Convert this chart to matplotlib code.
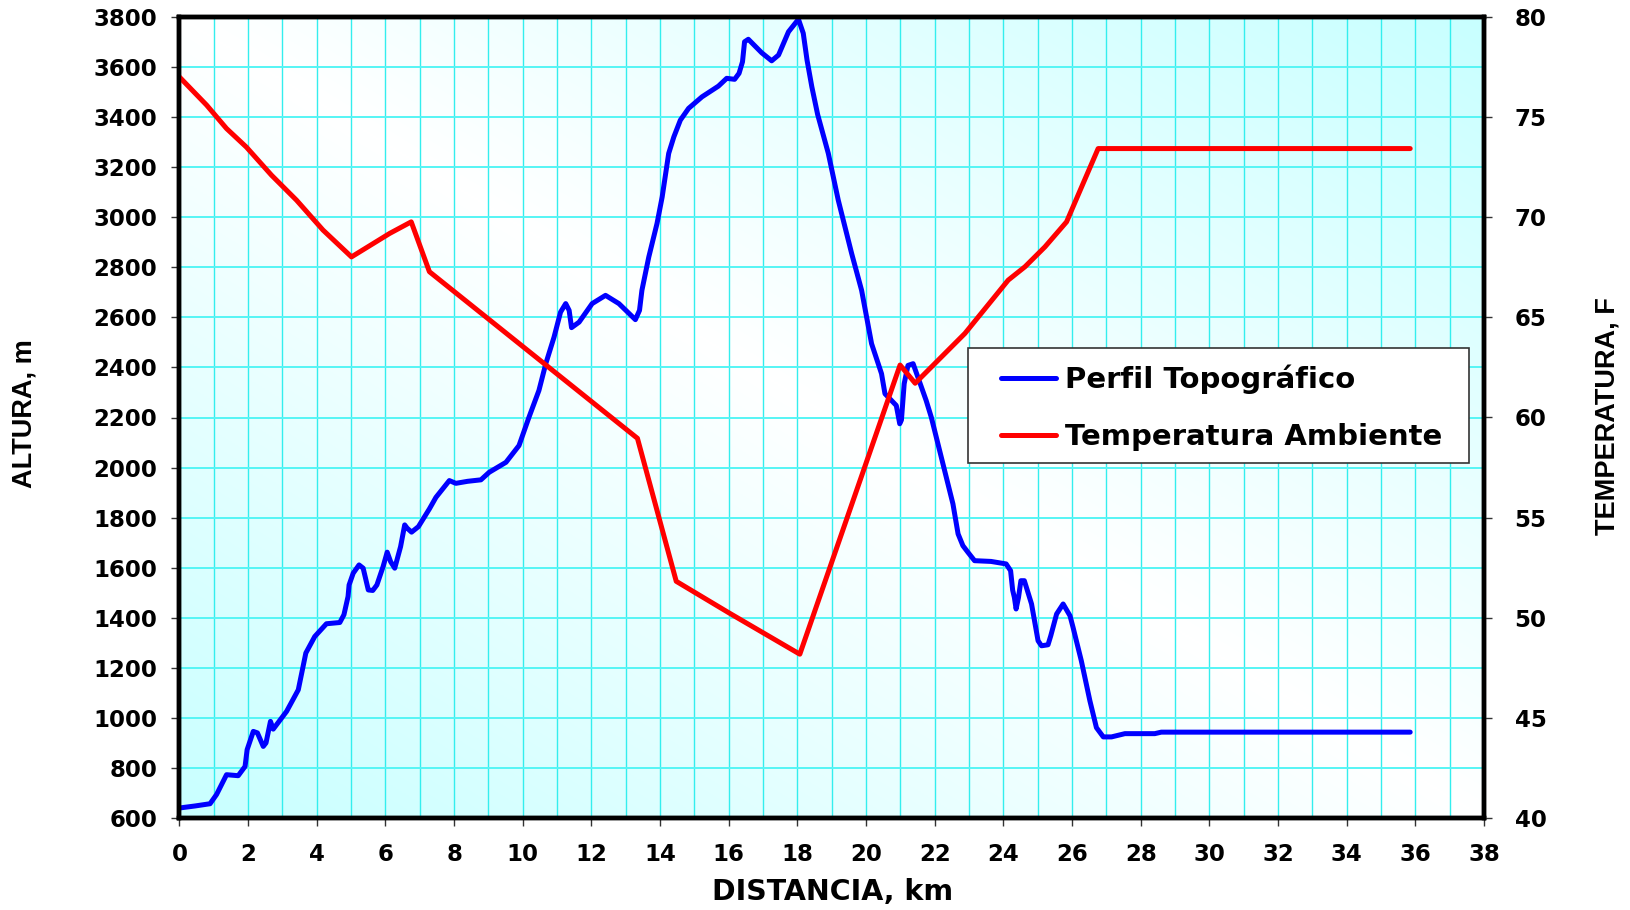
import numpy as np
import matplotlib
matplotlib.use("Agg")
import matplotlib.pyplot as plt
from matplotlib.ticker import MultipleLocator
from matplotlib.colors import LinearSegmentedColormap
from matplotlib.patches import Rectangle

# Topographic profile: distance (km) vs altitude (m)
dist_km = [0.00, 0.45, 0.89, 1.08, 1.37, 1.71, 1.91, 1.97, 2.15, 2.27, 2.44, 2.52,
           2.65, 2.73, 3.12, 3.46, 3.68, 3.94, 4.28, 4.67, 4.79, 4.91, 4.94, 5.06,
           5.23, 5.35, 5.50, 5.63, 5.75, 5.93, 6.05, 6.15, 6.27, 6.44, 6.56, 6.63,
           6.76, 6.96, 7.28, 7.47, 7.86, 8.05, 8.39, 8.78, 9.02, 9.51, 9.89, 10.18,
           10.47, 10.67, 10.91, 11.10, 11.25, 11.35, 11.42, 11.64, 12.02, 12.41,
           12.80, 13.28, 13.40, 13.47, 13.67, 13.91, 14.06, 14.25, 14.40, 14.59,
           14.83, 15.22, 15.70, 15.94, 16.17, 16.30, 16.40, 16.46, 16.57, 16.96,
           17.25, 17.45, 17.74, 18.03, 18.17, 18.28, 18.42, 18.59, 18.90, 19.19,
           19.58, 19.87, 20.16, 20.45, 20.55, 20.88, 20.98, 21.03, 21.11, 21.22,
           21.37, 21.51, 21.75, 21.90, 22.19, 22.53, 22.68, 22.82, 22.97, 23.16,
           23.64, 24.08, 24.21, 24.27, 24.32, 24.37, 24.44, 24.51, 24.61, 24.82,
           25.01, 25.11, 25.30, 25.38, 25.55, 25.74, 25.94, 26.03, 26.27, 26.52,
           26.71, 26.91, 27.15, 27.54, 28.41, 28.60, 35.85]
altura_m = [640, 648, 657, 694, 773, 769, 806, 873, 946, 940, 886, 900,
            986, 955, 1026, 1112, 1259, 1325, 1376, 1381, 1412, 1485, 1531, 1578,
            1611, 1598, 1511, 1509, 1531, 1604, 1662, 1624, 1598, 1684, 1771, 1758,
            1742, 1764, 1835, 1881, 1948, 1937, 1945, 1951, 1981, 2021, 2088, 2201,
            2308, 2415, 2521, 2621, 2655, 2628, 2559, 2581, 2655, 2688,
            2655, 2591, 2628, 2708, 2841, 2975, 3081, 3255, 3321, 3388,
            3435, 3481, 3524, 3555, 3551, 3575, 3621, 3701, 3711, 3657,
            3625, 3648, 3741, 3791, 3735, 3628, 3521, 3410, 3255, 3068,
            2855, 2708, 2495, 2375, 2295, 2248, 2175, 2190, 2335, 2408,
            2415, 2361, 2268, 2201, 2041, 1855, 1735, 1688, 1661, 1628,
            1625, 1615, 1588, 1510, 1481, 1435, 1481, 1548, 1548, 1455,
            1308, 1288, 1292, 1328, 1415, 1455, 1408, 1361, 1228, 1068,
            961, 924, 924, 937, 937, 943, 943]

# Ambient temperature: distance (km) vs temperature (F)
temp_km = [0.00, 0.79, 1.37, 1.95, 2.68, 3.41, 4.18, 5.01, 6.12, 6.75, 7.28,
           13.34, 14.47, 16.00, 18.07, 20.99, 21.43, 22.88, 24.14, 24.63, 25.21,
           25.84, 26.76, 35.85]
temp_f = [77.0, 75.6, 74.43, 73.5, 72.1, 70.85, 69.36, 68.02, 69.19, 69.77, 67.28,
          58.96, 51.82, 50.25, 48.18, 62.62, 61.71, 64.2, 66.86, 67.53, 68.52,
          69.77, 73.43, 73.43]

x_ticks = list(range(0, 39, 2))
alt_ticks = list(range(600, 3801, 200))
temp_ticks = list(range(40, 81, 5))

series_labels = ["Perfil Topográfico", "Temperatura Ambiente"]

W, H, DPI = 1631, 910, 100
fig = plt.figure(figsize=(W / DPI, H / DPI), dpi=DPI)
left, right, top, bottom = 179.5, 1484.0, 17.0, 818.0
ax = fig.add_axes([left / W, 1 - bottom / H, (right - left) / W, (bottom - top) / H])

# diagonal light-cyan / white / light-cyan background
n = 400
u = np.linspace(0, 1, n)
U, V = np.meshgrid(u, u)
grad = np.abs(U + V - 1.0)
cmap = LinearSegmentedColormap.from_list("bg", ["#FFFFFF", "#C8FFFF"])
ax.imshow(grad, extent=[0, 1, 0, 1], transform=ax.transAxes, origin="lower",
          cmap=cmap, aspect="auto", zorder=0, interpolation="bilinear")

tick_font = dict(family="DejaVu Sans", weight="bold", size=16.5)

ax.set_xlim(0, 38)
ax.set_ylim(600, 3800)
ax.set_xticks(x_ticks)
ax.set_yticks(alt_ticks)
ax.xaxis.set_minor_locator(MultipleLocator(1))
ax.set_xticklabels([str(v) for v in x_ticks], fontdict=tick_font)
ax.set_yticklabels([str(v) for v in alt_ticks], fontdict=tick_font)
ax.tick_params(axis="both", which="major", direction="out", length=6, width=1,
               color="#333333")
ax.tick_params(axis="y", pad=10)
ax.tick_params(axis="x", pad=12)
ax.tick_params(axis="x", which="minor", length=0)

ax.set_axisbelow(True)
ax.grid(axis="x", which="both", color="#33EEEE", linewidth=1.0)
ax.grid(axis="y", which="major", color="#55F5F5", linewidth=1.4)

(l1,) = ax.plot(dist_km, altura_m, color="#0000FF", linewidth=3.6,
                solid_capstyle="round", solid_joinstyle="round", zorder=3,
                label=series_labels[0])

ax2 = ax.twinx()
ax2.set_ylim(40, 80)
ax2.set_yticks(temp_ticks)
ax2.set_yticklabels([str(v) for v in temp_ticks], fontdict=tick_font)
ax2.tick_params(axis="y", direction="out", length=6, width=1, color="#333333", pad=16)
(l2,) = ax2.plot(temp_km, temp_f, color="#FF0000", linewidth=3.6,
                 solid_capstyle="round", solid_joinstyle="round", zorder=3,
                 label=series_labels[1])

for a in (ax, ax2):
    for side, sp in a.spines.items():
        sp.set_color("black")
        sp.set_linewidth(3.2)
        sp.set_zorder(5)

label_font = dict(family=["Liberation Sans", "DejaVu Sans"], weight="bold", size=19.5)
fig.text(833 / W, 1 - 892 / H, "DISTANCIA, km", ha="center", va="center",
         family="DejaVu Sans", weight="bold", size=20.5)
fig.text(25 / W, 1 - 414 / H, "ALTURA, m", ha="center", va="center",
         rotation=90, **label_font)
fig.text(1608 / W, 1 - 416 / H, "TEMPERATURA, F", ha="center", va="center",
         rotation=90, **label_font)

# legend box drawn separately, entries placed inside it
box = Rectangle((968.5 / W, 1 - 462.9 / H), (1468.8 - 968.5) / W, (462.9 - 348.5) / H,
                transform=fig.transFigure, facecolor="white", edgecolor="#333333",
                linewidth=1.2, zorder=1)
fig.patches.append(box)
leg = fig.legend([l1, l2], series_labels, loc="center left",
                 bbox_to_anchor=(1001 / W, 1 - 407.7 / H),
                 borderaxespad=0, frameon=False,
                 prop=dict(family="DejaVu Sans", weight="bold", size=21),
                 handlelength=1.9, handletextpad=0.3, borderpad=0,
                 labelspacing=1.0)
leg.set_zorder(2)

fig.savefig("out.png", dpi=DPI)
